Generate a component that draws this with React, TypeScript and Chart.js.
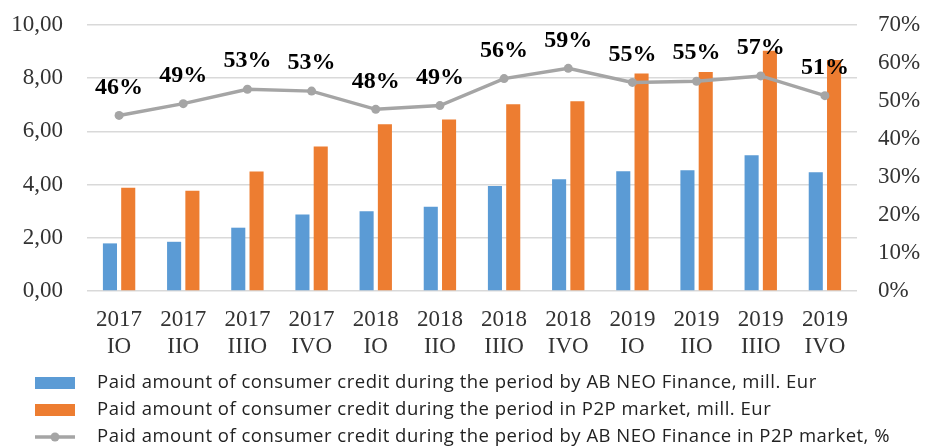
import React, { useEffect, useRef } from 'react';
import { Chart, registerables } from 'chart.js';

Chart.register(...registerables);

const years = ['2017', '2017', '2017', '2017', '2018', '2018', '2018', '2018', '2019', '2019', '2019', '2019'];
const quarters = ['IO', 'IIO', 'IIIO', 'IVO', 'IO', 'IIO', 'IIIO', 'IVO', 'IO', 'IIO', 'IIIO', 'IVO'];

const neoFinance = [1.79, 1.85, 2.38, 2.88, 3.0, 3.17, 3.95, 4.2, 4.5, 4.54, 5.1, 4.46];
const p2pMarket = [3.88, 3.77, 4.49, 5.43, 6.27, 6.45, 7.02, 7.13, 8.18, 8.23, 9.03, 8.68];
const neoShare = [46.2, 49.3, 53.1, 52.6, 47.8, 48.8, 55.9, 58.6, 54.9, 55.2, 56.6, 51.4];

const leftAxis = { min: 0, max: 10, step: 2 };
const rightAxis = { min: 0, max: 70, step: 10 };

const seriesNames = [
  'Paid amount of consumer credit during the period by AB NEO Finance, mill. Eur',
  'Paid amount of consumer credit during the period in P2P market, mill. Eur',
  'Paid amount of consumer credit during the period by AB NEO Finance in P2P market, %',
];

const BLUE = '#5B9BD5';
const ORANGE = '#ED7D31';
const GRAY = '#A5A5A5';
const TICK_COLOR = '#333333';
const SERIF = '"Liberation Serif", "Times New Roman", serif';
const SANS = '"Open Sans", "Noto Sans", sans-serif';

const dataLabelPlugin = {
  id: 'shareLabels',
  afterDatasetsDraw(chart: any) {
    const meta = chart.getDatasetMeta(0);
    const ctx = chart.ctx;
    ctx.save();
    ctx.font = `bold 24px ${SERIF}`;
    ctx.fillStyle = '#000';
    ctx.textAlign = 'center';
    ctx.textBaseline = 'middle';
    meta.data.forEach((pt: any, i: number) => {
      const v = chart.data.datasets[0].data[i];
      ctx.fillText(`${Math.round(v)}%`, pt.x, pt.y - 28);
    });
    ctx.restore();
  },
};

const legendPlugin = {
  id: 'customLegend',
  afterDraw(chart: any) {
    const ctx = chart.ctx;
    const h = chart.height;
    const rows = [h - 65, h - 38, h - 11];
    const colors = [BLUE, ORANGE, GRAY];
    ctx.save();
    ctx.font = `18.5px ${SANS}`;
    try {
      (ctx as any).letterSpacing = '0.5px';
    } catch (e) {
      /* ignore */
    }
    ctx.textBaseline = 'middle';
    ctx.textAlign = 'left';
    rows.forEach((y, i) => {
      if (i < 2) {
        ctx.fillStyle = colors[i];
        ctx.fillRect(35, y - 6, 40, 12);
      } else {
        ctx.strokeStyle = GRAY;
        ctx.lineWidth = 3.5;
        ctx.beginPath();
        ctx.moveTo(35, y);
        ctx.lineTo(75, y);
        ctx.stroke();
        ctx.fillStyle = GRAY;
        ctx.beginPath();
        ctx.arc(55, y, 4.5, 0, Math.PI * 2);
        ctx.fill();
      }
      ctx.fillStyle = '#222';
      ctx.fillText(seriesNames[i], 97, y);
    });
    ctx.restore();
  },
};

export default function App() {
  const canvasRef = useRef<HTMLCanvasElement | null>(null);

  useEffect(() => {
    if (!canvasRef.current) return;
    const labels = years.map((y, i) => [y, quarters[i]]);
    const chart = new Chart(canvasRef.current, {
      type: 'bar',
      data: {
        labels,
        datasets: [
          {
            type: 'line',
            label: seriesNames[2],
            data: neoShare,
            yAxisID: 'y1',
            borderColor: GRAY,
            backgroundColor: GRAY,
            borderWidth: 3.5,
            pointRadius: 4.5,
            pointBackgroundColor: GRAY,
            pointBorderWidth: 0,
            tension: 0,
            order: 0,
          } as any,
          {
            type: 'bar',
            label: seriesNames[0],
            data: neoFinance,
            yAxisID: 'y',
            backgroundColor: BLUE,
            categoryPercentage: 0.57,
            barPercentage: 0.77,
            order: 1,
          },
          {
            type: 'bar',
            label: seriesNames[1],
            data: p2pMarket,
            yAxisID: 'y',
            backgroundColor: ORANGE,
            categoryPercentage: 0.57,
            barPercentage: 0.77,
            order: 2,
          },
        ],
      },
      options: {
        animation: false,
        responsive: true,
        maintainAspectRatio: false,
        layout: { padding: { top: 25, left: 0, right: 0, bottom: 0 } },
        plugins: {
          legend: { display: false },
          tooltip: { enabled: false },
        },
        scales: {
          x: {
            offset: true,
            grid: { display: false, drawTicks: false },
            border: { display: false },
            ticks: {
              color: TICK_COLOR,
              font: { family: SERIF, size: 23, lineHeight: 1.2 },
              padding: 15,
              maxRotation: 0,
              autoSkip: false,
            },
            afterFit: (s: any) => {
              s.height = 157;
              s.paddingLeft = 0;
              s.paddingRight = 0;
            },
          },
          y: {
            position: 'left',
            min: leftAxis.min,
            max: leftAxis.max,
            grid: { color: '#d9d9d9', lineWidth: 1.5, drawTicks: false },
            border: { display: false },
            ticks: {
              stepSize: leftAxis.step,
              color: TICK_COLOR,
              font: { family: SERIF, size: 23 },
              padding: 24,
              callback: (v: any) => Number(v).toFixed(2).replace('.', ','),
            },
            afterFit: (s: any) => {
              s.width = 87;
              s.paddingTop = 10;
              s.paddingBottom = 10;
            },
          },
          y1: {
            position: 'right',
            min: rightAxis.min,
            max: rightAxis.max,
            grid: { drawOnChartArea: false, drawTicks: false },
            border: { display: false },
            ticks: {
              stepSize: rightAxis.step,
              color: TICK_COLOR,
              font: { family: SERIF, size: 23 },
              padding: 21,
              callback: (v: any) => `${v}%`,
            },
            afterFit: (s: any) => {
              s.width = 70;
              s.paddingTop = 10;
              s.paddingBottom = 10;
            },
          },
        },
      },
      plugins: [dataLabelPlugin, legendPlugin],
    });
    return () => chart.destroy();
  }, []);

  return (
    <div style={{ position: 'absolute', left: 0, top: 0, width: 927, height: 448, background: '#fff' }}>
      <canvas ref={canvasRef} />
    </div>
  );
}
